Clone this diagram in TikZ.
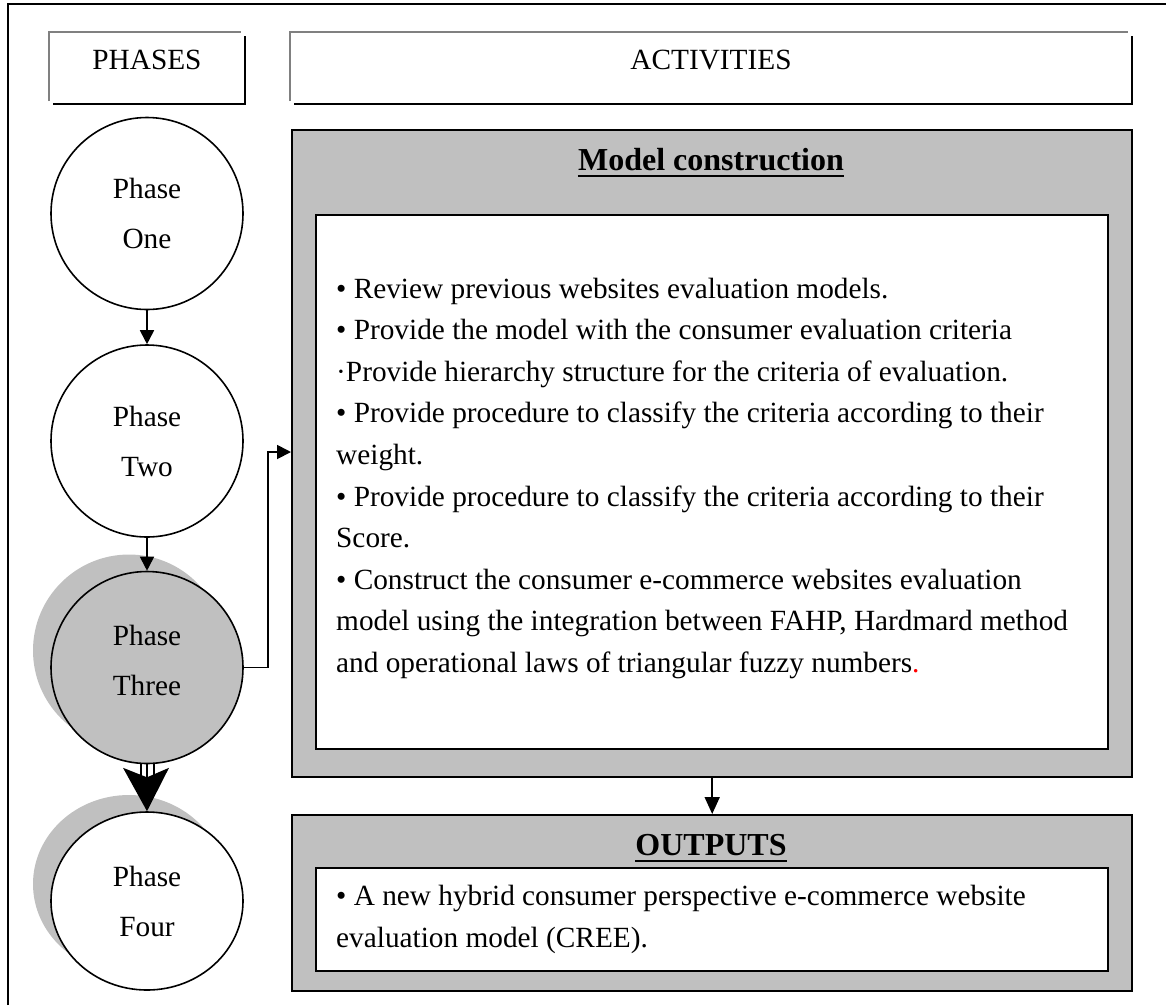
\documentclass[tikz,border=0pt]{standalone}
\usepackage{fontspec}
\setmainfont{Liberation Serif}
\usetikzlibrary{arrows.meta,calc,shapes.geometric}
\definecolor{panel}{HTML}{C0C0C0}
\definecolor{bevel}{HTML}{808080}
\definecolor{dotred}{HTML}{FF0000}
\begin{document}
\begin{tikzpicture}[x=1pt,y=-1pt,
  txt/.style={inner sep=0pt,font=\fontsize{29.3}{35}\selectfont},
  bodyline/.style={txt,anchor=base west},
  hdr/.style={txt,anchor=base},
  ttl/.style={inner sep=0pt,anchor=base,font=\fontsize{32}{38}\bfseries\selectfont},
  bevelline/.style={draw=bevel,line width=2.6pt},
  edgeline/.style={draw=black,line width=2.6pt},
  outerbox/.style={draw,line width=2.4pt,fill=panel,anchor=north west,inner sep=0pt},
  innerbox/.style={draw,line width=2pt,fill=white,anchor=north west,inner sep=0pt},
  phasenode/.style={draw,line width=1.6pt,inner sep=0pt,circle,minimum size=192pt},
  phasetxt/.style={inner sep=0pt,align=center,font=\fontsize{29.3}{50}\selectfont},
  conn/.style={line width=1.8pt,-{Triangle[length=14pt,width=14pt]}},
]
\useasboundingbox (0,0) rectangle (1166,1005);

% page frame (runs off the right and bottom edges)
\draw[line width=2pt] (7.5,1005) -- (7.5,4) -- (1166,4);

% column headers with bevelled edges
\draw[bevelline] (49,101) -- (49,32) -- (241,32);
\draw[edgeline] (245,36) -- (245,104) -- (53,104);
\node[hdr] (phases) at (147,69) {PHASES};
\draw[bevelline] (290,101) -- (290,32) -- (1128,32);
\draw[edgeline] (1132,36) -- (1132,104) -- (294,104);
\node[hdr] (activities) at (711,69) {ACTIVITIES};

% phase circles and their shadows
\coordinate (c1) at (147,213.5);
\coordinate (c2) at (147,441);
\coordinate (c3) at (147,667.5);
\coordinate (c4) at (147,901);
\fill[panel] ($(c3)+(-18,-17)$) circle[radius=96pt];
\fill[panel] ($(c4)+(-18,-17)$) ellipse[x radius=96pt,y radius=89pt];
\node[phasenode,fill=white] (p1) at (c1) {};
\node[phasenode,fill=white] (p2) at (c2) {};
\node[phasenode,fill=panel] (p3) at (c3) {};
\node[phasenode,ellipse,minimum width=192pt,minimum height=178pt,fill=white] (p4) at (c4) {};
\node[phasetxt] (t1) at (c1) {Phase\\One};
\node[phasetxt] (t2) at (c2) {Phase\\Two};
\node[phasetxt] (t3) at ($(c3)+(0,-7)$) {Phase\\Three};
\node[phasetxt] (t4) at (c4) {Phase\\Four};

% model construction panel
\node[outerbox,minimum width=840pt,minimum height=647pt] (model) at (291,129) {};
\node[innerbox,minimum width=792pt,minimum height=534pt] (modelin) at (315,214) {};
\node[ttl] (mtitle) at (711,170) {Model construction};
\draw[line width=2.4pt] ([yshift=-6pt]mtitle.base west) -- ([yshift=-6pt]mtitle.base east);

\node[bodyline] (a1) at (336,298) {• Review previous websites evaluation models.};
\node[bodyline] (a2) at (336,339.6) {• Provide the model with the consumer evaluation criteria};
\node[bodyline] (a3) at (336,381.2) {·Provide hierarchy structure for the criteria of evaluation.};
\node[bodyline] (a4) at (336,422.8) {• Provide procedure to classify the criteria according to their};
\node[bodyline] (a5) at (336,464.4) {weight.};
\node[bodyline] (a6) at (336,506) {• Provide procedure to classify the criteria according to their};
\node[bodyline] (a7) at (336,547.6) {Score.};
\node[bodyline] (a8) at (336,589.2) {• Construct the consumer e-commerce websites evaluation};
\node[bodyline] (a9) at (336,630.8) {model using the integration between FAHP, Hardmard method};
\node[bodyline] (a10) at (336,672.4) {and operational laws of triangular fuzzy numbers\textcolor{dotred}{.}};

% outputs panel
\node[outerbox,minimum width=840pt,minimum height=176pt] (outputs) at (291,814) {};
\node[innerbox,minimum width=792pt,minimum height=103pt] (outputsin) at (315,867) {};
\node[ttl] (otitle) at (711,855) {OUTPUTS};
\draw[line width=2.4pt] ([yshift=-6pt]otitle.base west) -- ([yshift=-6pt]otitle.base east);
\node[bodyline] (o1) at (336,905) {• A new hybrid consumer perspective e-commerce website};
\node[bodyline] (o2) at (336,947) {evaluation model (CREE).};

% connectors
\draw[conn] (p1.south) -- (p2.north);
\draw[conn] (p2.south) -- (p3.north);
\coordinate (modelentry) at (model.west |- 0,452);
\draw[conn] (p3.east) -- ++(24,0) |- (modelentry);
\draw[conn,-{Triangle[length=17pt,width=15pt]}] (model.south) -- (outputs.north);

% striped block arrow from phase three to phase four
\foreach \dx in {-6.5,0,6.5}
  \draw[line width=2pt] ($(p3.south)+(\dx,-1)$) -- ($(p3.south)+(\dx,14)$);
\fill ($(p3.south)+(-24,3.5)$) -- ($(p3.south)+(0,13)$) -- ($(p3.south)+(22,3.5)$) -- (p4.north) -- cycle;
\end{tikzpicture}
\end{document}
